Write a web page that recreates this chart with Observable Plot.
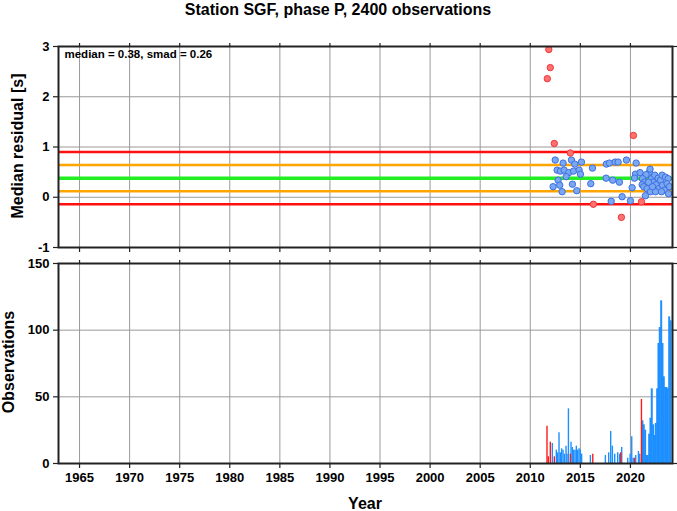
<!DOCTYPE html>
<html>
<head>
<meta charset="utf-8">
<script src="https://cdn.jsdelivr.net/npm/d3@7"></script>
<script src="https://cdn.jsdelivr.net/npm/@observablehq/plot@0.6"></script>
<style>
  html, body { margin: 0; padding: 0; background: white; }
  #wrap { position: relative; width: 677px; height: 511px; font-family: "Liberation Sans", Arial, sans-serif; font-weight: bold; color: #000; }
  #wrap svg { overflow: visible; }
  .abs { position: absolute; white-space: nowrap; }
</style>
</head>
<body>
<div id="wrap"></div>
<script>
// ---- Data ----
const titleText = "Station SGF, phase P, 2400 observations";
const median = 0.38;
const smad = 0.26;
const xTicks = [1965, 1970, 1975, 1980, 1985, 1990, 1995, 2000, 2005, 2010, 2015, 2020];
const yTicksTop = [-1, 0, 1, 2, 3];
const yTicksBottom = [0, 50, 100, 150];

// Monthly median residuals (decimal year, seconds)
const blueYears = [2012.49, 2013.28, 2014.11, 2014.44, 2015.11, 2012.68, 2013.01, 2013.38, 2013.84, 2014.31, 2014.88, 2015.01, 2013.58, 2012.78, 2012.28, 2012.94, 2013.18, 2014.21, 2014.64, 2016.21, 2016.04, 2017.6, 2017.9, 2018.47, 2018.77, 2019.6, 2020.57, 2017.57, 2018.23, 2018.9, 2018.08, 2019.17, 2020.0, 2020.17, 2020.5, 2020.96, 2021.9, 2021.96, 2020.4, 2021.56, 2021.2, 2021.4, 2021.17, 2021.33, 2021.66, 2021.5, 2022.1, 2022.43, 2022.3, 2022.56, 2022.76, 2023.0, 2023.16, 2023.5, 2023.76, 2022.83, 2023.2, 2023.42, 2023.66, 2023.9, 2022.0, 2022.5, 2023.1, 2023.8, 2022.2, 2021.8];
const blueValues = [0.74, 0.68, 0.74, 0.66, 0.70, 0.54, 0.52, 0.54, 0.49, 0.52, 0.54, 0.46, 0.41, 0.34, 0.21, 0.24, 0.11, 0.26, 0.13, 0.58, 0.27, 0.66, 0.68, 0.70, 0.70, 0.74, 0.68, 0.38, 0.34, 0.30, -0.08, 0.01, -0.07, 0.19, 0.46, 0.49, 0.50, 0.56, 0.38, 0.45, 0.37, 0.30, 0.25, 0.21, 0.17, 0.03, 0.37, 0.44, 0.30, 0.25, 0.38, 0.34, 0.44, 0.40, 0.37, 0.17, 0.24, 0.14, 0.27, 0.21, 0.11, 0.11, 0.11, 0.07, 0.21, 0.30];
const redYears = [2011.85, 2012.0, 2011.7, 2012.4, 2020.3, 2014.0, 2016.3, 2019.1, 2021.1];
const redValues = [2.94, 2.58, 2.36, 1.07, 1.23, 0.88, -0.14, -0.40, -0.09];

// Monthly observation counts
const barYears = [2011.67, 2011.8, 2012.0, 2012.2, 2012.4, 2012.6, 2012.73, 2012.87, 2013.0, 2013.13, 2013.27, 2013.4, 2013.57, 2013.67, 2013.81, 2014.0, 2014.07, 2014.2, 2014.33, 2014.47, 2014.6, 2014.73, 2014.87, 2015.0, 2015.13, 2016.0, 2016.24, 2017.5, 2017.83, 2018.03, 2018.2, 2018.43, 2018.73, 2018.93, 2019.03, 2019.13, 2019.73, 2019.97, 2020.13, 2020.27, 2020.4, 2020.53, 2020.8, 2020.93, 2021.1, 2021.2, 2021.33, 2021.47, 2021.6, 2021.73, 2021.87, 2022.0, 2022.13, 2022.27, 2022.4, 2022.53, 2022.67, 2022.8, 2022.93, 2023.07, 2023.2, 2023.33, 2023.47, 2023.6, 2023.73, 2023.87, 2024.0];
const barCounts = [28, 5, 16, 15, 5, 10, 8, 23, 8, 11, 10, 7, 13, 7, 41, 7, 16, 12, 10, 10, 13, 10, 11, 10, 7, 6, 7, 6, 8, 24, 13, 7, 8, 7, 8, 12, 4, 7, 20, 4, 4, 6, 9, 7, 48, 32, 29, 25, 6, 6, 22, 34, 56, 29, 21, 30, 56, 90, 102, 122, 90, 65, 57, 57, 56, 110, 107];
const barIsRed = [1, 1, 1, 0, 1, 0, 0, 0, 0, 0, 0, 0, 0, 0, 0, 1, 0, 0, 0, 0, 0, 0, 0, 0, 0, 0, 1, 0, 0, 0, 0, 0, 0, 0, 1, 0, 0, 0, 0, 0, 1, 0, 0, 0, 1, 0, 0, 0, 0, 0, 0, 0, 0, 0, 0, 0, 0, 0, 0, 0, 0, 0, 0, 0, 0, 0, 0];

// ---- Build tables ----
const bluePts = blueYears.map((x, i) => ({x, y: blueValues[i]}));
const redPts = redYears.map((x, i) => ({x, y: redValues[i]}));
const bars = barYears.map((x, i) => ({x, n: barCounts[i], red: barIsRed[i] === 1}));
const xDomain = [1962.9, 2024.2];

const font = "Liberation Sans, Arial, sans-serif";
const baseStyle = {fontFamily: font, fontSize: "13px", fontWeight: "bold", color: "#000", background: "transparent", overflow: "visible"};
const gridStroke = "#9a9a9a";
const frameStroke = "#222";
const fmt = d => String(d);

function frameAxes(yTicks, withLabels) {
  return [
    Plot.frame({stroke: frameStroke, strokeWidth: 2}),
    Plot.axisX({anchor: "bottom", ticks: xTicks, tickSize: 5, tickPadding: 4, label: null, stroke: frameStroke, strokeWidth: 1.2,
      tickFormat: withLabels ? fmt : (() => "")}),
    Plot.axisX({anchor: "top", ticks: xTicks, tickSize: 4, label: null, stroke: frameStroke, strokeWidth: 1.2, tickFormat: () => ""}),
    Plot.axisY({anchor: "left", ticks: yTicks, tickSize: 5, tickPadding: 4, label: null, stroke: frameStroke, strokeWidth: 1.2, tickFormat: fmt}),
    Plot.axisY({anchor: "right", ticks: yTicks, tickSize: 4, label: null, stroke: frameStroke, strokeWidth: 1.2, tickFormat: () => ""})
  ];
}

const topPlot = Plot.plot({
  width: 677, height: 262,
  marginLeft: 58, marginRight: 5, marginTop: 46, marginBottom: 15,
  x: {domain: xDomain},
  y: {domain: [-1, 3]},
  style: baseStyle,
  marks: [
    Plot.ruleX(xTicks, {stroke: gridStroke, strokeWidth: 1}),
    Plot.ruleY([0, 1, 2], {stroke: gridStroke, strokeWidth: 1}),
    Plot.ruleY([median + 2 * smad, median - 2 * smad], {stroke: "#ff1010", strokeWidth: 2.5}),
    Plot.ruleY([median + smad, median - smad], {stroke: "#ffa500", strokeWidth: 2.5}),
    Plot.ruleY([median], {stroke: "#22ee22", strokeWidth: 3.5}),
    Plot.dot(bluePts, {x: "x", y: "y", r: 3.2, fill: "#78a8f2", stroke: "#3f6fe0", strokeWidth: 1}),
    Plot.dot(redPts, {x: "x", y: "y", r: 3.2, fill: "#ff7070", stroke: "#ee3838", strokeWidth: 1}),
    ...frameAxes(yTicksTop, false),
    Plot.text([`median = ${median.toFixed(2)}, smad = ${smad.toFixed(2)}`], {frameAnchor: "top-left", dx: 6, dy: 3, fontSize: 11.5, fontWeight: "bold", fill: "#000"})
  ]
});

const bottomPlot = Plot.plot({
  width: 677, height: 261,
  marginLeft: 58, marginRight: 5, marginTop: 13, marginBottom: 48,
  x: {domain: xDomain},
  y: {domain: [0, 150]},
  style: baseStyle,
  marks: [
    Plot.ruleX(xTicks, {stroke: gridStroke, strokeWidth: 1}),
    Plot.ruleY([50, 100], {stroke: gridStroke, strokeWidth: 1}),
    Plot.ruleX(bars.filter(d => !d.red), {x: "x", y1: 0, y2: "n", stroke: "#1e8fff", strokeWidth: d => d.x > 2021 ? 2 : 1.4}),
    Plot.ruleX(bars.filter(d => d.red), {x: "x", y1: 0, y2: "n", stroke: "#ff1a1a", strokeWidth: 1.4}),
    ...frameAxes(yTicksBottom, true)
  ]
});

const wrap = document.getElementById("wrap");
topPlot.style.position = "absolute"; topPlot.style.left = "0px"; topPlot.style.top = "0px";
bottomPlot.style.position = "absolute"; bottomPlot.style.left = "0px"; bottomPlot.style.top = "250px";
wrap.appendChild(topPlot);
wrap.appendChild(bottomPlot);

function addText(txt, left, top, size, rotate) {
  const d = document.createElement("div");
  d.className = "abs";
  d.textContent = txt;
  d.style.fontSize = size + "px";
  d.style.left = left + "px";
  d.style.top = top + "px";
  d.style.transform = "translate(-50%, -50%)" + (rotate ? " rotate(-90deg)" : "");
  wrap.appendChild(d);
}
addText(titleText, 338, 10, 16, false);
addText("Median residual [s]", 18, 146, 16, true);
addText("Observations", 9, 362, 16, true);
addText("Year", 365, 504, 16, false);
</script>
</body>
</html>
